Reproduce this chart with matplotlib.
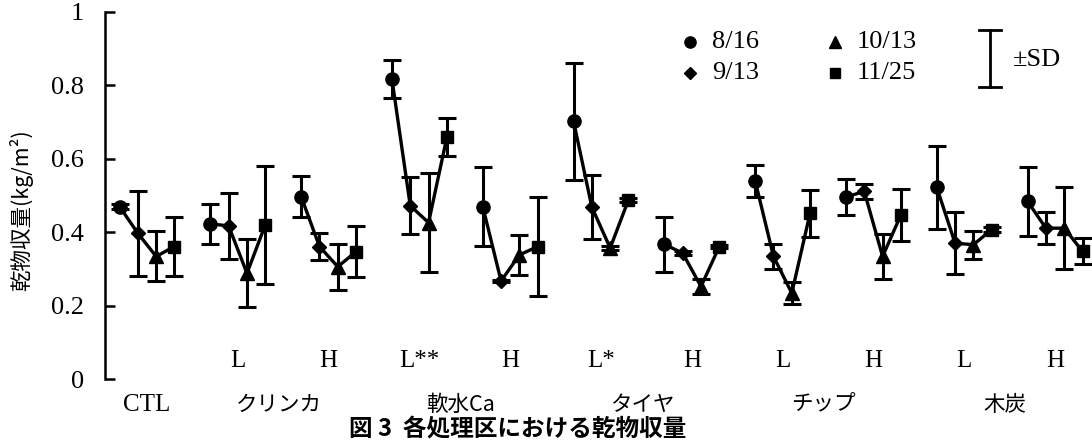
import matplotlib
matplotlib.use("Agg")
import matplotlib.pyplot as plt
import numpy as np
from matplotlib.lines import Line2D
from matplotlib.transforms import blended_transform_factory

# ---------------- data ----------------
dates = ["8/16", "9/13", "10/13", "11/25"]
categories = ["CTL", "クリンカ", "軟水Ca", "タイヤ", "チップ", "木炭"]
levels = ["", "L", "H", "L**", "H", "L*", "H", "L", "H", "L", "H"]

mean_0816 = [0.470, 0.423, 0.497, 0.817, 0.470, 0.702, 0.367, 0.540, 0.496, 0.522, 0.484]
mean_0913 = [0.397, 0.417, 0.361, 0.472, 0.267, 0.468, 0.343, 0.334, 0.511, 0.370, 0.411]
mean_1013 = [0.334, 0.288, 0.306, 0.426, 0.338, 0.357, 0.252, 0.234, 0.334, 0.366, 0.411]
mean_1125 = [0.361, 0.420, 0.347, 0.659, 0.361, 0.488, 0.361, 0.452, 0.447, 0.407, 0.348]

sd_0816 = [0.006, 0.054, 0.056, 0.051, 0.108, 0.160, 0.075, 0.043, 0.048, 0.113, 0.095]
sd_0913 = [0.116, 0.090, 0.038, 0.078, 0.004, 0.087, 0.005, 0.035, 0.020, 0.085, 0.044]
sd_1013 = [0.068, 0.093, 0.063, 0.134, 0.054, 0.006, 0.020, 0.030, 0.062, 0.038, 0.112]
sd_1125 = [0.081, 0.160, 0.070, 0.052, 0.135, 0.005, 0.005, 0.064, 0.071, 0.006, 0.035]

y_ticks = [0, 0.2, 0.4, 0.6, 0.8, 1]
y_ticklabels = ["0", "0.2", "0.4", "0.6", "0.8", "1"]

means = [mean_0816, mean_0913, mean_1013, mean_1125]
sds = [sd_0816, sd_0913, sd_1013, sd_1125]

# ---------------- style ----------------
SERIF = "Liberation Serif"
JP = ["Noto Sans CJK JP", "DejaVu Sans"]
markers = ["o", "D", "^", "s"]
msizes = [9.5, 7.5, 10, 8.5]
offsets = np.array([-1.5, -0.5, 0.5, 1.5]) * 0.2016

fig = plt.figure(figsize=(10.92, 4.44), dpi=100)
W, H = 1092, 444
ax = fig.add_axes([105 / W, 65 / H, (W - 105) / W, 367 / H])

groups = np.arange(len(levels))

# connecting lines per treatment group
for g in groups:
    xs = g + offsets
    ys = [m[g] for m in means]
    ax.plot(xs, ys, color="black", lw=2.4, zorder=2)

# markers with error bars per date
for k in range(4):
    ax.errorbar(groups + offsets[k], means[k], yerr=sds[k], fmt=markers[k],
                color="black", ms=msizes[k], ecolor="black", elinewidth=2.2,
                capsize=6.5, capthick=2.2, zorder=3)

ax.set_xlim(-0.4626, 10.407)
ax.set_ylim(0, 1)
for s in ["top", "right", "bottom"]:
    ax.spines[s].set_visible(False)
ax.spines["left"].set_linewidth(1.8)
ax.set_xticks([])
ax.set_yticks(y_ticks)
ax.set_yticklabels(y_ticklabels, fontfamily=SERIF, fontsize=19)
ax.tick_params(axis="y", direction="in", length=7, width=1.8, pad=15)

# level labels (L / H)
for g, lbl in zip(groups, levels):
    if lbl:
        ax.text(g, 0.048, lbl, ha="center", va="center", fontfamily=SERIF, fontsize=18)

# category labels below axis
trans = blended_transform_factory(ax.transData, ax.transAxes)
cat_x = [0] + [(2 * j - 1 + 2 * j) / 2 - 0.05 for j in range(1, len(categories))]
for x, c in zip(cat_x, categories):
    fam = [SERIF] if c == "CTL" else JP
    ax.text(x, -0.07, c, transform=trans, ha="center", va="center",
            fontfamily=fam, fontsize=18 if c == "CTL" else 15.5)

# y label
fig.text(21 / W, 1 - 210 / H, "乾物収量(kg/m²)", rotation=90, ha="center", va="center",
         fontfamily=JP, fontsize=15.5)

# caption
fig.text(518 / W, 1 - 429 / H, "図 3  各処理区における乾物収量", ha="center", va="center",
         fontfamily=JP, fontsize=17, fontweight="bold")

# legend (manual)
ta = ax.transAxes
leg_pos = [(0.593, 0.918), (0.593, 0.834), (0.740, 0.918), (0.740, 0.834)]
for k, (lx, ly) in enumerate(leg_pos):
    ax.plot([lx], [ly], marker=markers[k], color="black", ms=msizes[k] * 0.85,
            transform=ta, clip_on=False)
    ax.text(lx + 0.022, ly, dates[k], transform=ta, ha="left", va="center",
            fontfamily=SERIF, fontsize=19)

sdx, sdy0, sdy1 = 0.897, 0.796, 0.951
ax.add_line(Line2D([sdx, sdx], [sdy0, sdy1], transform=ta, color="black", lw=2.0, clip_on=False))
for yy in (sdy0, sdy1):
    ax.add_line(Line2D([sdx - 0.011, sdx + 0.011], [yy, yy], transform=ta, color="black",
                       lw=2.0, clip_on=False))
ax.text(0.920, 0.869, "±SD", transform=ta, ha="left", va="center", fontfamily=SERIF, fontsize=19)

fig.savefig("out.png", dpi=100)
